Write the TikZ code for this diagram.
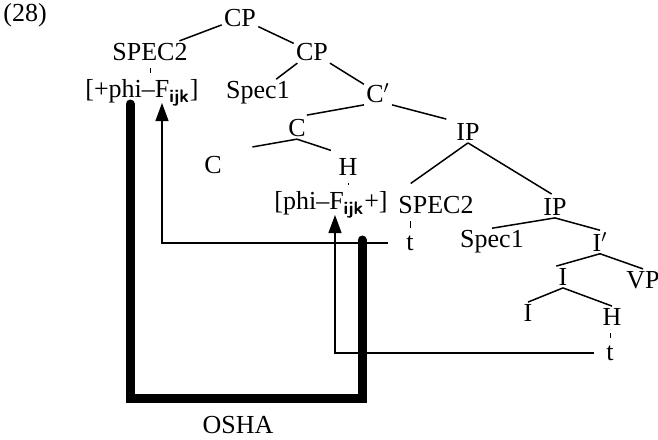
\documentclass[tikz,border=0pt]{standalone}
\usepackage{fontspec}
\setmainfont{Liberation Serif}
\usetikzlibrary{arrows.meta}
\begin{document}
\begin{tikzpicture}[x=0.5pt,y=-0.5pt,
  lab/.style={inner sep=1pt,font=\fontsize{13}{15}\selectfont},
  branch/.style={line width=0.75pt},
  tick/.style={line width=0.5pt,shorten <=2.5pt,shorten >=2.5pt},
  chain/.style={line width=0.6pt,-{Triangle[length=9pt,width=6.5pt]}},
  osha line/.style={line width=4.5pt,line cap=round}]
  \useasboundingbox (0,0) rectangle (658,439);
  \node[lab] (num) at (25,15) {(28)};
  \node[lab] (cp) at (240,18) {CP};
  \node[lab] (spec2) at (150,52) {SPEC2};
  \node[lab] (cp2) at (312,52) {CP};
  \node[lab] (feat) at (142,93) {[+phi--F\textsubscript{\bfseries\sffamily ijk}]};
  \node[lab] (spec1) at (258,93) {Spec1};
  \node[lab] (cbar) at (378,93) {C$'$};
  \node[lab] (c) at (297,128) {C};
  \node[lab] (ip) at (468,132) {IP};
  \node[lab] (c0) at (213,165) {C};
  \node[lab] (h) at (348,167) {H};
  \node[lab] (featb) at (331,205) {[phi--F\textsubscript{\bfseries\sffamily ijk}+]};
  \node[lab] (spec2b) at (436,205) {SPEC2};
  \node[lab] (ip2) at (555,207) {IP};
  \node[lab] (t1) at (410,243) {t};
  \node[lab] (spec1b) at (492,242) {Spec1};
  \node[lab] (ibar) at (600,242) {I$'$};
  \node[lab] (i) at (563,277) {I};
  \node[lab] (vp) at (643,280) {VP};
  \node[lab] (i0) at (528,313) {I};
  \node[lab] (hb) at (612,317) {H};
  \node[lab] (t2) at (610,353) {t};
  \node[lab] (osha) at (238,425) {OSHA};
  \draw[branch] (cp)--(spec2) (cp)--(cp2) (cp2)--(spec1) (cp2)--(cbar);
  \draw[branch,shorten >=5pt] (cbar.south west)--(c.north);
  \draw[branch,shorten >=4pt] (cbar.south east)--(ip.north west);
  \draw[branch,shorten >=20pt] (c.south)--(c0.north);
  \draw[branch,shorten >=9pt] (c.south)--(h.north);
  \draw[branch,shorten >=9pt] (ip.south)--(spec2b.north west);
  \draw[branch,shorten >=2pt] (ip.south)--(ip2.north);
  \draw[branch] (ip2.south)--(spec1b.north) (ip2.south)--(ibar.north)
        (ibar.south)--(i.north west) (ibar.south)--(vp.north)
        (i.south)--(i0.north) (i.south)--(hb.north);
  \draw[tick] (spec2.south) -- (spec2.south |- feat.north);
  \draw[tick] (h.south) -- (h.south |- featb.north);
  \draw[tick] (t1.north) -- (t1.north |- spec2b.south);
  \draw[tick] (t2.north) -- (t2.north |- hb.south);
  \coordinate (ftip) at (162,103);
  \coordinate (fbtip) at (335,215);
  \draw[chain,shorten <=8pt] (t1.west) -| (ftip);
  \draw[chain,shorten <=5pt] (t2.west) -| (fbtip);
  \coordinate (oshatop) at (130,104);
  \coordinate (oshabot) at (130,398);
  \coordinate (oshaend) at (362,240);
  \draw[osha line] (oshatop) -- (oshabot) -| (oshaend);
\end{tikzpicture}
\end{document}
